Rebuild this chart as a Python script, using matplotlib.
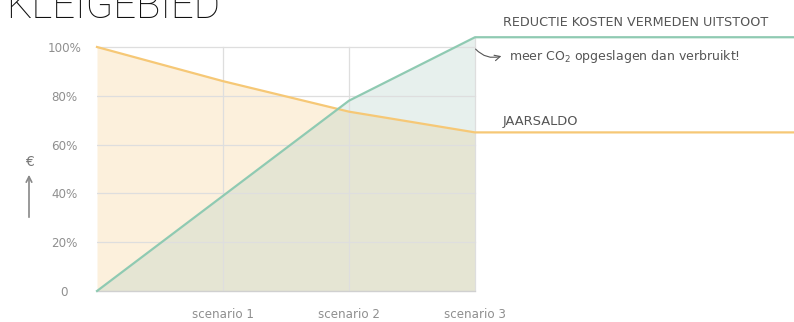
import matplotlib.pyplot as plt
import numpy as np

# data
x_pos = [0, 1, 2, 3, 5.6]
jaarsaldo = [100, 86, 73.5, 65, 65]
reductie = [0, 39, 78, 104, 104]
scenario_labels = ['scenario 1', 'scenario 2', 'scenario 3']
y_ticks = [0, 20, 40, 60, 80, 100]
y_labels = ['0', '20%', '40%', '60%', '80%', '100%']

ORANGE = '#f6c876'
GREEN = '#8fcab2'
GRID = '#dedede'
TXT = '#555555'

plt.rcParams['font.family'] = ['DejaVu Sans']

fig = plt.figure(figsize=(7.94, 3.22), dpi=100)
W, H = 794, 322
ax = fig.add_axes([97 / W, 31 / H, (W - 97) / W, 291 / H])
ax.set_xlim(0, (W - 97) / 126)
ax.set_ylim(0, 291 / 2.44)

n = 4  # points up to scenario 3
xf = np.array(x_pos[:n])
ax.fill_between(xf, 0, jaarsaldo[:n], color='#fcf0dc', lw=0)
ax.fill_between(xf, 0, reductie[:n], color='#a9cbbd', alpha=0.27, lw=0)

# grid inside the scenario span
for v in y_ticks[1:]:
    ax.plot([0, 3], [v, v], color=GRID, lw=0.9, zorder=1)
for xi in [1, 2]:
    ax.plot([xi, xi], [0, 100], color=GRID, lw=0.9, zorder=1)
ax.plot([3, 3], [0, reductie[3]], color=GRID, lw=0.9, zorder=1)
ax.plot([0, 3], [0, 0], color='#d0d0d0', lw=1.0, zorder=1, clip_on=False)

ax.plot(x_pos, jaarsaldo, color=ORANGE, lw=1.6, zorder=3, clip_on=False)
ax.plot(x_pos, reductie, color=GREEN, lw=1.6, zorder=3, clip_on=False)

for s in ax.spines.values():
    s.set_visible(False)
ax.set_yticks(y_ticks)
ax.set_yticklabels(y_labels, ha='center')
ax.set_xticks([1, 2, 3])
ax.set_xticklabels(scenario_labels)
ax.tick_params(axis='y', length=0, pad=23.5, labelsize=8.6, labelcolor='#8f8f8f')
ax.tick_params(axis='x', length=0, pad=12, labelsize=8.6, labelcolor='#8f8f8f')

# annotations
ax.text(3.22, 110.2, 'REDUCTIE KOSTEN VERMEDEN UITSTOOT', fontsize=9.2,
        color=TXT, va='center', ha='left', clip_on=False)
ax.text(3.27, 96.3, 'meer CO$_2$ opgeslagen dan verbruikt!', fontsize=9.0,
        color=TXT, va='center', ha='left')
ax.annotate('', xy=(3.23, 96.6), xytext=(2.99, 100.0),
            arrowprops=dict(arrowstyle='->', color='#555555', lw=0.8,
                            connectionstyle='arc3,rad=0.35'))
ax.text(3.22, 69.3, 'JAARSALDO', fontsize=9.4, color=TXT, va='center', ha='left')

fig.text(29 / W, 1 - 162 / H, '€', fontsize=10, color='#777777', ha='center', va='center')
ax.annotate('', xy=(29, H - 172), xytext=(29, H - 220), xycoords='figure pixels',
            textcoords='figure pixels',
            arrowprops=dict(arrowstyle='->', color='#888888', lw=1.2))

fig.text(6 / W, 1 - 18 / H, 'KLEIGEBIED', fontsize=29, fontweight='light',
         family=['Roboto', 'DejaVu Sans'], color='#111111', ha='left', va='baseline')

fig.savefig('out.png', dpi=100)
